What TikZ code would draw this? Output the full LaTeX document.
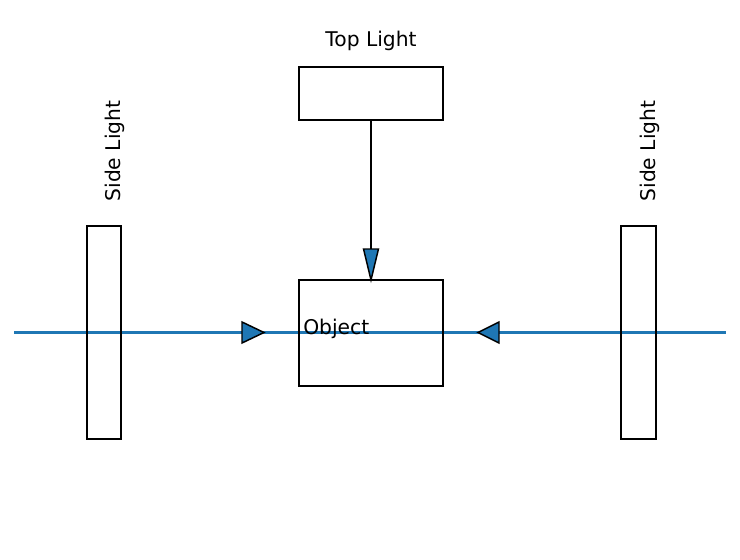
\documentclass[tikz,border=0pt]{standalone}
\usepackage{fontspec}
\setmainfont{DejaVu Sans}
\definecolor{mplblue}{HTML}{1F77B4}
\begin{document}
\begin{tikzpicture}[x=0.75pt,y=-0.75pt,
  box/.style={draw=black,line width=1.1pt,fill=none},
  lbl/.style={inner sep=0pt,font=\fontsize{15.2}{18}\selectfont},
  head/.style={fill=mplblue,draw=black,line width=1.1pt,line join=miter}]
\useasboundingbox (0,0) rectangle (740,560);
% beam
\coordinate (lend) at (14,332.5);
\coordinate (rend) at (726,332.5);
\draw[mplblue,line width=1.6pt] (lend) -- (rend);
% boxes
\draw[box] (299,67) rectangle (443,120);
\coordinate (topbot) at (371,120);
\draw[box] (299,280) rectangle (443,386);
\coordinate (objtop) at (371,280);
\draw[box] (87,226) rectangle (121,439);
\draw[box] (621,226) rectangle (656,439);
% vertical connector
\draw[black,line width=1.9pt] (topbot) -- ([yshift=23.25pt]objtop);
\draw[head] ([xshift=-5.6pt,yshift=23.25pt]objtop) -- (objtop) -- ([xshift=5.6pt,yshift=23.25pt]objtop) -- cycle;
% horizontal heads
\draw[head] (242,322) -- (264,332.5) -- (242,343) -- cycle;
\draw[head] (499,322) -- (478,332.5) -- (499,343) -- cycle;
% labels
\node[lbl,anchor=base] (toplbl) at (371,47) {Top Light};
\node[lbl,anchor=base west] (objlbl) at (303,334) {Object};
\node[lbl,anchor=base,rotate=90] (sidel) at (120,151) {Side Light};
\node[lbl,anchor=base,rotate=90] (sider) at (655,151) {Side Light};
\end{tikzpicture}
\end{document}
